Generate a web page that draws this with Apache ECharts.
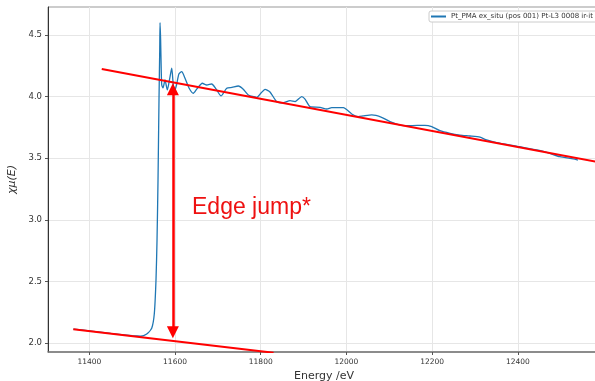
<!DOCTYPE html>
<html>
<head>
<meta charset="utf-8">
<script src="https://cdn.jsdelivr.net/npm/echarts@6/dist/echarts.min.js"></script>
<style>html,body{margin:0;padding:0;background:#fff;}#c{width:595px;height:381px;}</style>
</head>
<body>
<div id="c"></div>
<script>
// Spectrum (energy in eV, normalised absorption)
const energy = [11362.7, 11400, 11450, 11500, 11520, 11534, 11545.6, 11551.7, 11555.6, 11558, 11560.3, 11562.6, 11564.3, 11565, 11566.4, 11567.8, 11569, 11572, 11576.6, 11582, 11587, 11592.3, 11595.3, 11598.3, 11603.5, 11609, 11615.6, 11623, 11632.6, 11642.7, 11651, 11663.7, 11674, 11685.6, 11695.6, 11707.3, 11720.6, 11733, 11747.7, 11758.6, 11771, 11790.6, 11800.6, 11810, 11821.6, 11837.3, 11852.7, 11868.3, 11880, 11895.6, 11903.3, 11915, 11938.3, 11954, 11965.6, 11992.7, 12012.3, 12027.7, 12039, 12059, 12082, 12101.6, 12125, 12148, 12183, 12199, 12218, 12241.6, 12265, 12288, 12311.6, 12327, 12350.6, 12404, 12463, 12498, 12529, 12540];
const chiMu = [2.113, 2.099, 2.078, 2.059, 2.055, 2.073, 2.12, 2.24, 2.511, 2.836, 3.323, 3.972, 4.378, 4.6, 4.46, 4.216, 4.094, 4.07, 4.135, 4.054, 4.135, 4.23, 4.119, 4.04, 4.094, 4.183, 4.202, 4.151, 4.07, 4.027, 4.062, 4.108, 4.094, 4.102, 4.062, 4.005, 4.067, 4.074, 4.086, 4.062, 4.013, 3.994, 4.029, 4.059, 4.037, 3.959, 3.95, 3.967, 3.959, 3.999, 3.98, 3.918, 3.913, 3.899, 3.91, 3.91, 3.859, 3.838, 3.843, 3.851, 3.832, 3.796, 3.769, 3.764, 3.767, 3.756, 3.723, 3.702, 3.688, 3.68, 3.67, 3.648, 3.626, 3.593, 3.552, 3.512, 3.494, 3.485];
// Fitted lines (pre-edge and post-edge)
const preEdgeE = [11362.7, 11830];
const preEdgeY = [2.111, 1.9208];
const postEdgeE = [11429, 12600];
const postEdgeY = [4.224, 3.4605];
// Edge jump arrow
const arrowE = 11595;
const arrowY = [2.038, 4.108];
// Axis ticks
const xTicks = [11400, 11600, 11800, 12000, 12200, 12400];
const yTicks = [2.0, 2.5, 3.0, 3.5, 4.0, 4.5];
const seriesName = 'Pt_PMA ex_situ (pos 001) Pt-L3 0008 ir-it';
const xRange = [11303.6, 12591.6];
const yRange = [1.927, 4.727];

const chart = echarts.init(document.getElementById('c'), null, {renderer: 'canvas'});
const pxPerY = 345 / (yRange[1] - yRange[0]);
const headHalf = 6 / pxPerY;
const font = 'DejaVu Sans';

const option = {
  animation: false,
  backgroundColor: '#ffffff',
  grid: {left: 48, top: 7, width: 552, height: 345, outerBoundsMode: 'none', containLabel: false,
         show: true, borderColor: '#999', borderWidth: 1, backgroundColor: 'transparent'},
  legend: {
    left: 429, top: 11, padding: [2, 4, 2, 2],
    borderColor: '#cccccc', borderWidth: 1, borderRadius: 2,
    backgroundColor: '#fff',
    itemWidth: 15, itemHeight: 2,
    textStyle: {fontFamily: font, fontSize: 7, color: '#333'},
    data: [{name: seriesName, icon: 'rect'}]
  },
  xAxis: {
    type: 'value', min: xRange[0], max: xRange[1],
    name: 'Energy /eV', nameLocation: 'middle', nameGap: 19,
    nameTextStyle: {fontFamily: font, fontSize: 11, color: '#333'},
    axisLine: {show: true, onZero: false, lineStyle: {color: '#777', width: 1.5}},
    axisTick: {show: true, length: 3, lineStyle: {color: '#555'}, customValues: xTicks},
    axisLabel: {fontFamily: font, fontSize: 7.5, color: '#333', margin: 6, customValues: xTicks, formatter: v => String(Math.round(v))},
    splitLine: {show: true, lineStyle: {color: '#e6e6e6', width: 1}}
  },
  yAxis: {
    type: 'value', min: yRange[0], max: yRange[1],
    name: 'χμ(E)', nameLocation: 'middle', nameGap: 29, nameRotate: 90,
    nameTextStyle: {fontFamily: font, fontSize: 11, color: '#333', fontStyle: 'italic'},
    axisLine: {show: true, onZero: false, lineStyle: {color: '#333', width: 1}},
    axisTick: {show: true, length: 3, lineStyle: {color: '#555'}, customValues: yTicks},
    axisLabel: {fontFamily: font, fontSize: 8.5, color: '#333', margin: 6, customValues: yTicks, formatter: v => v.toFixed(1)},
    splitLine: {show: true, lineStyle: {color: '#e6e6e6', width: 1}}
  },
  series: [
    {
      name: seriesName, type: 'line', showSymbol: false, symbol: 'none',
      smooth: 0.2,
      data: energy.map((e, i) => [e, chiMu[i]]),
      lineStyle: {color: '#1f77b4', width: 1.3}, itemStyle: {color: '#1f77b4'}, z: 2
    },
    {
      name: 'pre', type: 'line', showSymbol: false, symbol: 'none', clip: true,
      data: preEdgeE.map((e, i) => [e, preEdgeY[i]]),
      lineStyle: {color: '#ff0000', width: 2}, z: 3
    },
    {
      name: 'post', type: 'line', showSymbol: false, symbol: 'none', clip: true,
      data: postEdgeE.map((e, i) => [e, postEdgeY[i]]),
      lineStyle: {color: '#ff0000', width: 2}, z: 3
    },
    {
      name: 'jump', type: 'lines', coordinateSystem: 'cartesian2d',
      symbol: ['triangle', 'triangle'], symbolSize: 12,
      lineStyle: {color: '#ff0000', width: 2.5, opacity: 1, curveness: 0},
      itemStyle: {color: '#ff0000'},
      data: [{coords: [[arrowE, arrowY[0] + headHalf], [arrowE, arrowY[1] - headHalf]]}],
      z: 4
    }
  ],
  graphic: [
    {type: 'text', left: 192, top: 196, z: 10,
     style: {text: 'Edge jump*', fill: '#ee1111', font: '23px "Liberation Sans", Arial, sans-serif'}}
  ]
};
chart.setOption(option);
</script>
</body>
</html>
